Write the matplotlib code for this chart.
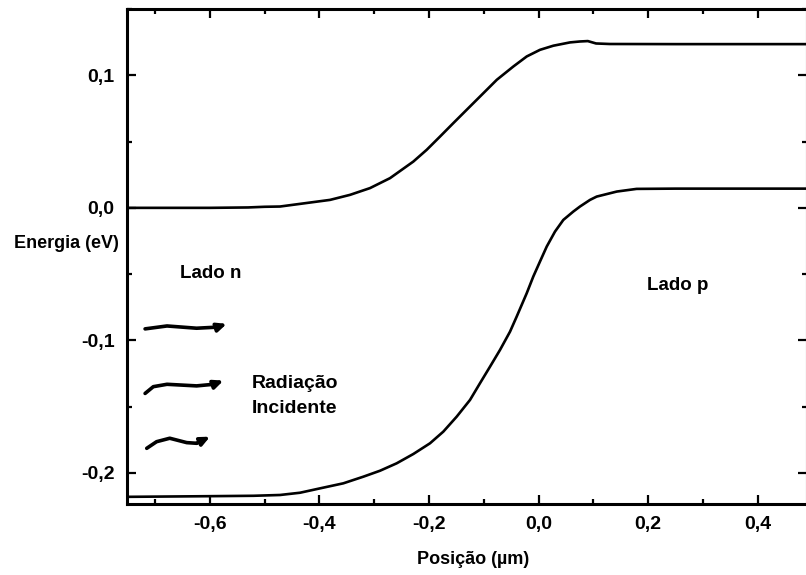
import matplotlib
matplotlib.use("Agg")
import matplotlib.pyplot as plt
from matplotlib.ticker import MultipleLocator, FuncFormatter

# Bandas de energia ao longo da junção
x_sup = [-0.751, -0.60, -0.53, -0.50, -0.4717, -0.4352, -0.3805, -0.344, -0.3075,
         -0.271, -0.2285, -0.204, -0.1797, -0.1555, -0.131, -0.1067, -0.0761,
         -0.046, -0.0215, 0.0027, 0.027, 0.0575, 0.0757, 0.09, 0.105, 0.13, 0.25, 0.49]
e_sup = [0.0, 0.0, 0.0003, 0.0008, 0.001, 0.003, 0.006, 0.0098, 0.0149,
         0.0224, 0.0349, 0.0438, 0.0538, 0.0639, 0.074, 0.084, 0.0966,
         0.1066, 0.1142, 0.1192, 0.1223, 0.1248, 0.1255, 0.1258, 0.124, 0.1236, 0.1235, 0.1235]

x_inf = [-0.751, -0.60, -0.52, -0.4717, -0.4352, -0.3987, -0.3562, -0.3197, -0.2892,
         -0.2588, -0.2285, -0.198, -0.1737, -0.1493, -0.125, -0.1068, -0.0885,
         -0.0703, -0.052, -0.0398, -0.0215, -0.0095, 0.0027, 0.015, 0.0301, 0.0453,
         0.0635, 0.0757, 0.094, 0.1062, 0.143, 0.179, 0.25, 0.49]
e_inf = [-0.218, -0.2175, -0.2172, -0.2166, -0.2149, -0.2116, -0.2078, -0.2028, -0.1983,
         -0.1927, -0.1857, -0.1776, -0.1688, -0.1575, -0.1449, -0.1323, -0.1198,
         -0.1072, -0.0934, -0.082, -0.0644, -0.0518, -0.0405, -0.0292, -0.0179, -0.0091,
         -0.0028, 0.001, 0.006, 0.0085, 0.0123, 0.0143, 0.0145, 0.0145]

# Setas onduladas (radiação incidente)
seta1_x = [-0.718, -0.678, -0.624, -0.587, -0.569]
seta1_y = [-0.0913, -0.0891, -0.0908, -0.0900, -0.0875]
seta2_x = [-0.718, -0.703, -0.678, -0.624, -0.593, -0.575]
seta2_y = [-0.140, -0.1349, -0.1331, -0.1343, -0.1331, -0.1303]
seta3_x = [-0.715, -0.697, -0.673, -0.642, -0.624, -0.5995]
seta3_y = [-0.1814, -0.1764, -0.1738, -0.1771, -0.1776, -0.1726]

plt.rcParams['font.family'] = ['Liberation Sans', 'DejaVu Sans']
plt.rcParams['font.weight'] = 'bold'

fig = plt.figure(figsize=(8.06, 5.75), dpi=100)
ax = fig.add_axes([127/806, 71/575, 680/806, 495/575])

ax.plot(x_sup, e_sup, color='black', lw=1.9)
ax.plot(x_inf, e_inf, color='black', lw=1.9)

for sx, sy in [(seta1_x, seta1_y), (seta2_x, seta2_y), (seta3_x, seta3_y)]:
    ax.plot(sx[:-1], sy[:-1], color='black', lw=2.6, solid_capstyle='round')
    ax.annotate('', xy=(sx[-1], sy[-1]), xytext=(sx[-2], sy[-2]),
                arrowprops=dict(arrowstyle='-|>,head_length=0.55,head_width=0.25',
                                color='black', lw=2.6, shrinkA=0, shrinkB=0))

ax.text(-0.598, -0.0528, 'Lado n', fontsize=13.5, ha='center', va='baseline')
ax.text(0.2546, -0.0619, 'Lado p', fontsize=13.5, ha='center', va='baseline')
ax.text(-0.523, -0.1358, 'Radiação', fontsize=14, ha='left', va='baseline')
ax.text(-0.523, -0.1547, 'Incidente', fontsize=14, ha='left', va='baseline')

ax.set_xlim(-0.751, 0.490)
ax.set_ylim(-0.2234, 0.150)

ax.xaxis.set_major_locator(MultipleLocator(0.2))
ax.xaxis.set_minor_locator(MultipleLocator(0.1))
ax.yaxis.set_major_locator(MultipleLocator(0.1))
ax.yaxis.set_minor_locator(MultipleLocator(0.05))

def virgula(v, pos):
    s = f"{v:.1f}".replace('.', ',')
    if s == '-0,0':
        s = '0,0'
    return s

ax.xaxis.set_major_formatter(FuncFormatter(virgula))
ax.yaxis.set_major_formatter(FuncFormatter(virgula))

ax.tick_params(which='both', direction='in', top=True, right=True, width=1.6)
ax.tick_params(which='major', length=6.5, labelsize=14)
ax.tick_params(which='minor', length=3.5)
ax.tick_params(axis='x', pad=9)
ax.tick_params(axis='y', pad=9)
for s in ax.spines.values():
    s.set_linewidth(2.2)

ax.set_xlabel('Posição (µm)', fontsize=13, fontweight='bold', va='center')
ax.xaxis.set_label_coords(0.509, -0.113)
ax.set_ylabel('Energia (eV)', fontsize=13, fontweight='bold', rotation=0,
              ha='right', va='center')
ax.yaxis.set_label_coords(-0.012, 0.527)

fig.savefig('out.png', dpi=100)
